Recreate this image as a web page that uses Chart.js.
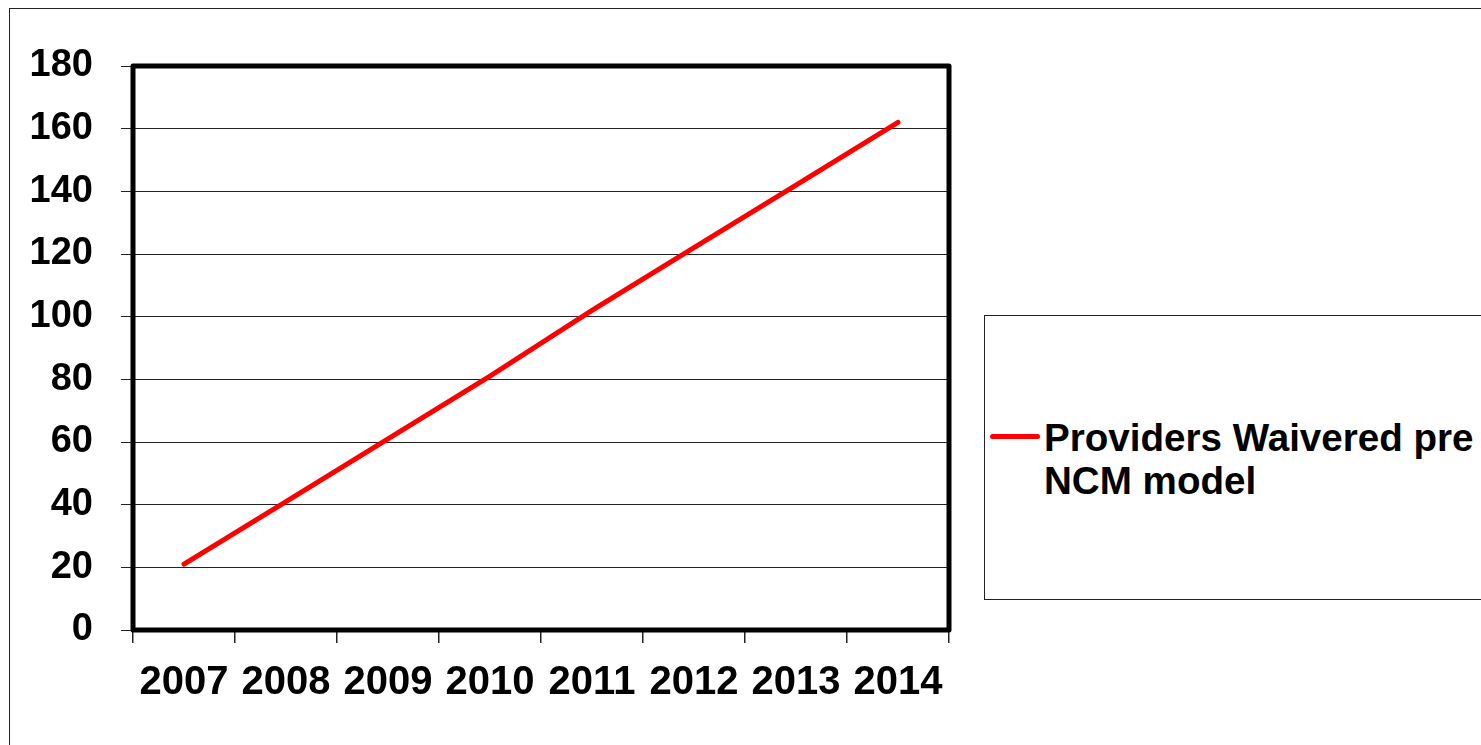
<!DOCTYPE html>
<html>
<head>
<meta charset="utf-8">
<script src="https://cdn.jsdelivr.net/npm/chart.js@4.4.1/dist/chart.umd.min.js"></script>
<style>
  html, body { margin: 0; padding: 0; background: #fff; overflow: hidden; }
  body { width: 1481px; height: 745px; position: relative; }
  #frame { position: absolute; left: 9px; top: 8px; width: 2000px; height: 2000px; border: 1px solid #222; box-sizing: border-box; }
  #wrap { position: absolute; left: 0; top: 0; width: 1481px; height: 745px; }
  #legend { position: absolute; left: 984px; top: 315px; width: 1000px; height: 285px; border: 1px solid #222; box-sizing: border-box; background: #fff; }
  .lg-item { position: absolute; left: 0; top: 0; }
  .lg-swatch { position: absolute; left: 5px; top: 118px; width: 50px; height: 5px; border-radius: 3px; }
  .lg-text { position: absolute; left: 59px; top: 100px; width: 450px; font-family: 'Liberation Sans', Arial, sans-serif; font-weight: bold; font-size: 38.6px; line-height: 43px; color: #000; white-space: normal; }
</style>
</head>
<body>
<div id="frame"></div>
<div id="wrap"><canvas id="c" width="1481" height="745"></canvas></div>
<div id="legend"></div>
<script>
const categories = ['2007', '2008', '2009', '2010', '2011', '2012', '2013', '2014'];
const seriesLabel = 'Providers Waivered pre NCM model';
const seriesValues = [21, 41, 61, 81, 102, 122, 142, 162];
const yTickMin = 0;
const yTickMax = 180;
const yTickStep = 20;

const FONT = "'Liberation Sans', Arial, sans-serif";

const frameBorder = {
  id: 'frameBorder',
  afterDatasetsDraw(chart) {
    const a = chart.chartArea;
    const ctx = chart.ctx;
    ctx.save();
    ctx.strokeStyle = '#000';
    ctx.lineWidth = 5;
    ctx.lineJoin = 'round';
    ctx.strokeRect(a.left, a.top, a.right - a.left, a.bottom - a.top);
    ctx.restore();
  }
};

const chart = new Chart(document.getElementById('c'), {
  type: 'line',
  data: {
    labels: categories,
    datasets: [{
      label: seriesLabel,
      data: seriesValues,
      borderColor: '#ff0000',
      backgroundColor: '#ff0000',
      borderWidth: 5,
      borderCapStyle: 'round',
      pointRadius: 0,
      tension: 0,
      fill: false
    }]
  },
  options: {
    responsive: false,
    animation: false,
    devicePixelRatio: 1,
    layout: { padding: { top: 66, right: 532, bottom: 0, left: 0 } },
    plugins: { legend: { display: false }, tooltip: { enabled: false } },
    scales: {
      x: {
        offset: true,
        grid: { offset: true, drawOnChartArea: false, drawTicks: true, tickLength: 13, color: '#222', lineWidth: 1.5 },
        border: { display: false },
        ticks: { color: '#000', font: { family: FONT, weight: 'bold', size: 40 }, padding: 16, maxRotation: 0, autoSkip: false },
        afterFit(scale) { scale.height = 115; }
      },
      y: {
        min: yTickMin,
        max: yTickMax,
        grid: { drawOnChartArea: true, drawTicks: true, tickLength: 12, color: '#222', lineWidth: 1 },
        border: { display: false },
        ticks: { stepSize: yTickStep, color: '#000', font: { family: FONT, weight: 'bold', size: 38 }, padding: 28 },
        afterFit(scale) { scale.width = 133; }
      }
    }
  },
  plugins: [frameBorder]
});

// HTML legend built from the chart's datasets
const legendEl = document.getElementById('legend');
chart.data.datasets.forEach(ds => {
  const item = document.createElement('div');
  item.className = 'lg-item';
  const sw = document.createElement('div');
  sw.className = 'lg-swatch';
  sw.style.background = ds.borderColor;
  const tx = document.createElement('div');
  tx.className = 'lg-text';
  tx.textContent = ds.label;
  item.appendChild(sw);
  item.appendChild(tx);
  legendEl.appendChild(item);
});
</script>
</body>
</html>
